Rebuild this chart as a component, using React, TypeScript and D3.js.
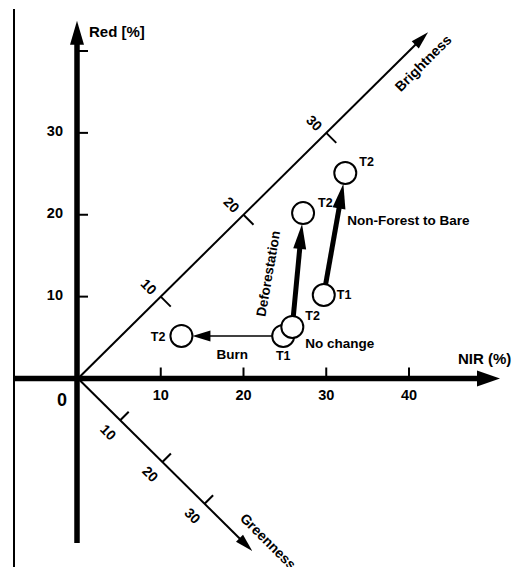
import React from "react";
import * as d3 from "d3";

// NIR / Red reflectance space with rotated Brightness and Greenness axes
const nirTicks = [10, 20, 30, 40];
const redTicks = [10, 20, 30, 40];
const redTickLabels = ["10", "20", "30", ""];
const brightnessTicks = [10, 20, 30];
const greennessTicks = [10, 20, 30];

// sample positions (NIR %, Red %)
const pointLabels = ["T2", "T1", "T2", "T2", "T1", "T2"];
const pointNir = [12.5, 24.8, 25.9, 27.2, 29.7, 32.3];
const pointRed = [5.2, 5.2, 6.3, 20.2, 10.2, 25.1];

// change vectors between samples
const changeNames = ["Burn", "Deforestation", "Non-Forest to Bare"];
const changeFrom = [1, 2, 4];
const changeTo = [0, 3, 5];
const changeHeavy = [false, true, true];

const W = 517;
const H = 567;
const FONT = "'Liberation Sans', Arial, Helvetica, sans-serif";

const x = d3.scaleLinear().domain([0, 40]).range([78, 409]);
const y = d3.scaleLinear().domain([0, 40]).range([378.5, 51]);
const GREEN_K = 0.51; // greenness unit in NIR/Red units along (1,-1)

const bPt = (b: number): [number, number] => [x(b), y(b)];
const gPt = (g: number): [number, number] => [x(g * GREEN_K), y(-g * GREEN_K)];

function arrowHead(x1: number, y1: number, x2: number, y2: number, len: number, half: number) {
  const L = Math.hypot(x2 - x1, y2 - y1);
  const ux = (x2 - x1) / L, uy = (y2 - y1) / L;
  const px = -uy, py = ux;
  const bx = x2 - ux * len, by = y2 - uy * len;
  return {
    bx: bx + ux * 2,
    by: by + uy * 2,
    pts: `${x2},${y2} ${bx + px * half},${by + py * half} ${bx - px * half},${by - py * half}`,
  };
}

const R = 11;

// text offsets for each sample label, relative to the circle centre
const labelDx = [-16, 0, 13, 15, 13, 14];
const labelDy = [5, 24, -7, -6, 4, -7];
const labelAnchor = ["end", "middle", "start", "start", "start", "start"];

export default function App() {
  const ox = x(0), oy = y(0);
  const xAxisHead = arrowHead(x(-7.7), oy, x(51), oy, 23, 8);
  const yAxisHead = arrowHead(ox - 1, y(-20.1), ox - 1, y(43.7), 24, 7);
  const [bx, by] = bPt(42.3);
  const bHead = arrowHead(ox, oy, bx, by, 18, 5);
  const [gx, gy] = gPt(41.3);
  const gHead = arrowHead(ox, oy, gx, gy, 18, 5);

  const changes = changeNames.map((name, i) => {
    const a = changeFrom[i], b = changeTo[i];
    const x1 = x(pointNir[a]), y1 = y(pointRed[a]);
    const x2 = x(pointNir[b]), y2 = y(pointRed[b]);
    const L = Math.hypot(x2 - x1, y2 - y1);
    const ux = (x2 - x1) / L, uy = (y2 - y1) / L;
    const sx = x1 + ux * R, sy = y1 + uy * R;
    const ex = x2 - ux * R, ey = y2 - uy * R;
    const head = changeHeavy[i] ? arrowHead(sx, sy, ex, ey, 25, 6.5) : arrowHead(sx, sy, ex, ey, 18, 5.5);
    return { name, sx, sy, head, heavy: changeHeavy[i] };
  });

  const [b40x, b40y] = bPt(40);
  const [g35x, g35y] = gPt(35);
  const gLx = g35x + 17, gLy = g35y - 9;

  return (
    <div style={{ position: "absolute", left: 0, top: 0 }}>
      <svg width={W} height={H} style={{ display: "block", background: "#fff" }} fontFamily={FONT} fontWeight="bold">
        {/* left frame line */}
        <line x1={14} x2={14} y1={9} y2={H} stroke="#000" strokeWidth={2} />

        {/* NIR axis */}
        <line x1={x(-7.7)} x2={xAxisHead.bx} y1={oy} y2={oy} stroke="#000" strokeWidth={5.5} />
        <polygon points={xAxisHead.pts} fill="#000" />
        {nirTicks.map((t) => (
          <g key={"xt" + t}>
            <line x1={x(t)} x2={x(t)} y1={oy} y2={oy - 11} stroke="#000" strokeWidth={2} />
            <text x={x(t)} y={oy + 21} textAnchor="middle" fontSize={14.5}>{t}</text>
          </g>
        ))}
        <text x={458} y={y(1.8)} fontSize={15}>NIR (%)</text>

        {/* Red axis */}
        <line x1={ox - 1} x2={ox - 1} y1={y(-20.1)} y2={yAxisHead.by} stroke="#000" strokeWidth={5.5} />
        <polygon points={yAxisHead.pts} fill="#000" />
        {redTicks.map((t, i) => (
          <g key={"yt" + t}>
            <line x1={ox} x2={ox + 10} y1={y(t)} y2={y(t)} stroke="#000" strokeWidth={2} />
            <text x={ox - 15} y={y(t) + 3} textAnchor="end" fontSize={14.5}>{redTickLabels[i]}</text>
          </g>
        ))}
        <text x={ox + 11} y={37} fontSize={15}>Red [%]</text>
        <text x={ox - 16} y={oy + 27} textAnchor="middle" fontSize={18}>0</text>

        {/* Brightness axis */}
        <line x1={ox} y1={oy} x2={bHead.bx} y2={bHead.by} stroke="#000" strokeWidth={2} />
        <polygon points={bHead.pts} fill="#000" />
        {brightnessTicks.map((t) => {
          const [tx, ty] = bPt(t);
          return (
            <g key={"bt" + t}>
              <line x1={tx} y1={ty} x2={tx + 10} y2={ty + 10} stroke="#000" strokeWidth={2} />
              <text x={tx - 12} y={ty - 10} textAnchor="middle" dominantBaseline="central" fontSize={14}
                transform={`rotate(45 ${tx - 12} ${ty - 10})`}>{t}</text>
            </g>
          );
        })}
        <text x={b40x + 14} y={b40y + 12} textAnchor="middle" dominantBaseline="central" fontSize={14}
          transform={`rotate(-45 ${b40x + 14} ${b40y + 12})`}>Brightness</text>

        {/* Greenness axis */}
        <line x1={ox} y1={oy} x2={gHead.bx} y2={gHead.by} stroke="#000" strokeWidth={2} />
        <polygon points={gHead.pts} fill="#000" />
        {greennessTicks.map((t) => {
          const [tx, ty] = gPt(t);
          return (
            <g key={"gt" + t}>
              <line x1={tx} y1={ty} x2={tx + 8.5} y2={ty - 8.5} stroke="#000" strokeWidth={2} />
              <text x={tx - 12} y={ty + 12} textAnchor="middle" dominantBaseline="central" fontSize={14}
                transform={`rotate(45 ${tx - 12} ${ty + 12})`}>{t}</text>
            </g>
          );
        })}
        <text x={gLx} y={gLy} dominantBaseline="central" fontSize={14}
          transform={`rotate(45 ${gLx} ${gLy})`}>Greenness</text>

        {/* change vectors */}
        {changes.map((c) => (
          <g key={c.name}>
            <line x1={c.sx} y1={c.sy} x2={c.head.bx} y2={c.head.by} stroke="#000" strokeWidth={c.heavy ? 5 : 1.5} />
            <polygon points={c.head.pts} fill="#000" />
          </g>
        ))}

        {/* samples */}
        {pointLabels.map((lab, i) => (
          <g key={"p" + i}>
            <circle cx={x(pointNir[i])} cy={y(pointRed[i])} r={R} fill="#fff" stroke="#000" strokeWidth={2} />
            <text x={x(pointNir[i]) + labelDx[i]} y={y(pointRed[i]) + labelDy[i]} textAnchor={labelAnchor[i]} fontSize={12.5}>{lab}</text>
          </g>
        ))}

        {/* change names */}
        <text x={(x(pointNir[0]) + x(pointNir[1])) / 2} y={y(pointRed[1]) + 23} textAnchor="middle" fontSize={13.5}>{changeNames[0]}</text>
        <text x={x(pointNir[2]) - 24} y={y(12.8)} textAnchor="middle" dominantBaseline="central" fontSize={13.5}
          transform={`rotate(-80 ${x(pointNir[2]) - 24} ${y(12.8)})`}>{changeNames[1]}</text>
        <text x={x(pointNir[5]) + 2} y={y(pointRed[5]) + 52} fontSize={13.5}>{changeNames[2]}</text>
        <text x={x(pointNir[2]) + 13} y={y(pointRed[2]) + 21} fontSize={13.5}>No change</text>
      </svg>
    </div>
  );
}
